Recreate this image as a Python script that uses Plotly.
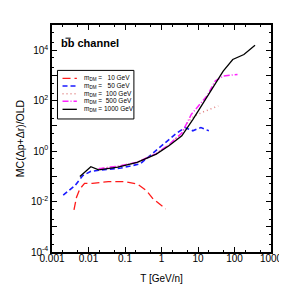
import plotly.graph_objects as go

# ---- data ----
t_10 = [0.0040, 0.0047, 0.0058, 0.0078, 0.0128, 0.035, 0.096, 0.215, 0.39, 0.59, 1.31]
y_10 = [0.0047, 0.0148, 0.0316, 0.053, 0.053, 0.062, 0.062, 0.050, 0.027, 0.0127, 0.0051]

t_50 = [0.00203, 0.00426, 0.0070, 0.0116, 0.0234, 0.078, 0.26, 0.72, 1.31, 2.4, 4.4, 7.2, 12, 19.8]
y_50 = [0.018, 0.043, 0.107, 0.158, 0.18, 0.213, 0.31, 1.04, 2.2, 4.7, 8.6, 6.4, 8.6, 6.4]

t_100 = [0.019, 0.064, 0.215, 0.72, 1.6, 3.6, 5.4, 8.0, 14.6, 36]
y_100 = [0.2, 0.25, 0.36, 0.8, 1.8, 5.2, 15, 25, 37, 62]

t_500 = [0.019, 0.064, 0.215, 0.72, 1.6, 3.6, 6.6, 17.9, 29.6, 49, 121]
y_500 = [0.2, 0.25, 0.36, 0.8, 1.8, 5.2, 29, 160, 600, 940, 1100]

t_1000 = [0.0058, 0.0116, 0.019, 0.064, 0.215, 0.72, 1.6, 3.6, 7.2, 17.9, 49, 89.5, 181, 365]
y_1000 = [0.098, 0.24, 0.18, 0.23, 0.357, 0.76, 1.63, 4.05, 17.8, 153, 1480, 4280, 6750, 15800]

x_ticks = [0.001, 0.01, 0.1, 1, 10, 100, 1000]
x_labels = ["0.001", "0.01", "0.1", "1", "10", "100", "1000"]
y_ticks = [1e-4, 1e-3, 1e-2, 1e-1, 1, 10, 1e2, 1e3, 1e4, 1e5]
y_labels = ["10<sup>-4</sup>", "", "10<sup>-2</sup>", "", "10<sup>0</sup>", "",
            "10<sup>2</sup>", "", "10<sup>4</sup>", ""]

legend_labels = ["m<sub>DM</sub> =\u00a0\u00a0\u00a010 GeV",
                 "m<sub>DM</sub> =\u00a0\u00a0\u00a050 GeV",
                 "m<sub>DM</sub> =\u00a0\u00a0100 GeV",
                 "m<sub>DM</sub> =\u00a0\u00a0500 GeV",
                 "m<sub>DM</sub> = 1000 GeV"]

series = [
    (t_10, y_10, "#ff1a1a", "8px,4px", 1.3),
    (t_50, y_50, "#1a1aff", "5px,3px", 1.6),
    (t_100, y_100, "#e08080", "1px,3px", 1.5),
    (t_500, y_500, "#ff22ff", "6px,2px,1px,2px", 1.5),
    (t_1000, y_1000, "#000000", "solid", 1.3),
]

fig = go.Figure()
for (xs, ys, col, dash, w), lab in zip(series, legend_labels):
    fig.add_trace(go.Scatter(x=xs, y=ys, mode="lines", name=lab,
                             line=dict(color=col, dash=dash, width=w),
                             showlegend=False))

font = "Liberation Sans, Arial, Helvetica, sans-serif"
ax_common = dict(type="log", showgrid=False, zeroline=False, showline=True,
                 linecolor="black", linewidth=1.5, mirror="ticks",
                 ticks="inside", ticklen=5, tickcolor="black", tickwidth=1,
                 tickfont=dict(size=10, color="black", family=font),
                 minor=dict(ticks="inside", ticklen=2.5, tickcolor="black",
                            tickwidth=0.8, showgrid=False))

fig.update_xaxes(**ax_common, range=[-3, 3], tickvals=x_ticks, ticktext=x_labels,
                 ticklabelstandoff=-4,
                 title=dict(text="T [GeV/n]", font=dict(size=10, color="black", family=font),
                            standoff=12))
fig.update_yaxes(**ax_common, range=[-4, 5], tickvals=y_ticks, ticktext=y_labels,
                 title=dict(text="MC(Δp+Δr)/OLD", font=dict(size=10.5, color="black", family=font),
                            standoff=4))

# manual legend (paper coordinates)
shapes = [dict(type="rect", xref="paper", yref="paper", x0=0.025, x1=0.374,
               y0=0.586, y1=0.80, line=dict(color="black", width=1),
               fillcolor="white", layer="above")]
annotations = []
ypos = [0.7645, 0.7311, 0.6974, 0.6636, 0.6285]
for (xs, ys, col, dash, w), lab, yy in zip(series, legend_labels, ypos):
    shapes.append(dict(type="line", xref="paper", yref="paper", x0=0.048, x1=0.1135,
                       y0=yy, y1=yy, line=dict(color=col, dash=dash, width=w),
                       layer="above"))
    annotations.append(dict(xref="paper", yref="paper", x=0.138, y=yy, text=lab,
                            showarrow=False, xanchor="left", yanchor="middle",
                            font=dict(size=6.5, color="black", family=font)))

# channel label with an overline on the second b
annotations.append(dict(xref="paper", yref="paper", x=0.0306, y=0.919,
                        text="<b>bb channel</b>", showarrow=False,
                        xanchor="left", yanchor="middle",
                        font=dict(size=11, color="black", family=font)))
shapes.append(dict(type="line", xref="paper", yref="paper", x0=0.0616, x1=0.0856,
                   y0=0.942, y1=0.942, line=dict(color="black", width=1),
                   layer="above"))

fig.update_layout(width=287, height=287, margin=dict(l=41, r=17, t=17, b=42),
                  paper_bgcolor="white", plot_bgcolor="white",
                  shapes=shapes, annotations=annotations, showlegend=False)

fig.write_html("out.html")
